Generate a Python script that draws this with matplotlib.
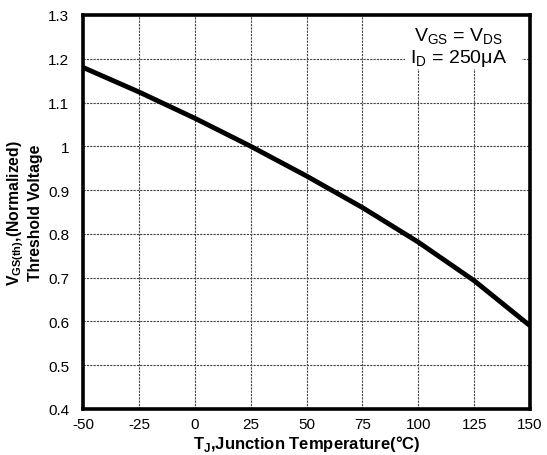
import matplotlib
matplotlib.use('Agg')
import matplotlib.pyplot as plt
from matplotlib.patches import Rectangle

plt.rcParams['font.family'] = ['Liberation Sans', 'DejaVu Sans']
plt.rcParams['mathtext.fontset'] = 'custom'
plt.rcParams['mathtext.rm'] = 'Liberation Sans'
plt.rcParams['mathtext.bf'] = 'Liberation Sans:bold'
plt.rcParams['axes.unicode_minus'] = False

# data
temp_c = [-50, -25, 0, 25, 50, 75, 100, 125, 150]
vth_norm = [1.180, 1.124, 1.064, 1.000, 0.932, 0.860, 0.781, 0.693, 0.590]
x_ticks = [-50, -25, 0, 25, 50, 75, 100, 125, 150]
y_ticks = [0.4, 0.5, 0.6, 0.7, 0.8, 0.9, 1.0, 1.1, 1.2, 1.3]
y_labels = ['0.4', '0.5', '0.6', '0.7', '0.8', '0.9', '1', '1.1', '1.2', '1.3']

fig = plt.figure(figsize=(5.47, 4.56), dpi=100)
ax = fig.add_axes([0.152, 0.101, 0.817, 0.864])

ax.plot(temp_c, vth_norm, color='black', lw=3.5, solid_capstyle='butt', zorder=3)

ax.set_xlim(-50, 150)
ax.set_ylim(0.4, 1.3)
ax.set_xticks(x_ticks)
ax.set_yticks(y_ticks)
ax.set_yticklabels(y_labels)
ax.tick_params(length=0, labelsize=11)
ax.tick_params(axis='y', pad=10)
ax.tick_params(axis='x', pad=6)
ax.grid(True, color='#444444', lw=0.8, ls=(0, (2, 1)))
for sp in ax.spines.values():
    sp.set_linewidth(2.6)
    sp.set_zorder(5)

ax.set_xlabel(r'T$_\mathbf{J}$,Junction Temperature(°C)', fontsize=12,
              fontweight='bold', labelpad=1)
ax.set_ylabel('V$_\\mathbf{GS(th)}$,(Normalized)\nThreshold Voltage', fontsize=11.3,
              fontweight='bold', labelpad=4, linespacing=1.1)

# white box behind the condition note (hides the grid there)
ax.add_patch(Rectangle((0.72, 0.863), 0.262, 0.137, transform=ax.transAxes,
                       fc='white', ec='none', zorder=2))
ax.text(0.84, 0.881, 'V$_\\mathrm{GS}$ = V$_\\mathrm{DS}$\nI$_\\mathrm{D}$ = 250μA',
        transform=ax.transAxes, ha='center', va='baseline', fontsize=14,
        linespacing=1.05, zorder=4)

fig.savefig('out.png', dpi=100, facecolor='white')
